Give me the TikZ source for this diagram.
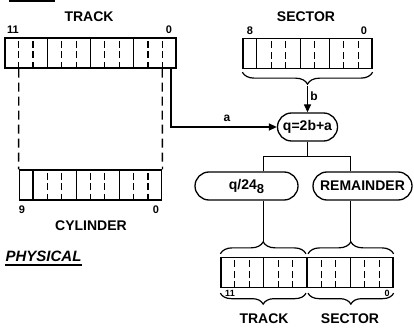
\documentclass[tikz,border=0pt]{standalone}
\usepackage{fontspec}
\setmainfont{Liberation Sans}
\usetikzlibrary{calc,arrows.meta,decorations.pathreplacing}
\begin{document}
\begin{tikzpicture}[x=1pt,y=-1pt,line width=1.3pt,
  reg/.style={draw,rectangle,minimum height=30pt,inner sep=0pt},
  lbl/.style={font=\fontsize{14}{14}\selectfont\bfseries,inner sep=0pt},
  bitlbl/.style={font=\fontsize{11}{11}\selectfont\bfseries,inner sep=0pt},
  pill/.style={draw,rounded corners=14pt,minimum height=28pt,inner sep=0pt,font=\fontsize{14}{14}\selectfont\bfseries},
  soliddiv/.style={line width=1.2pt},
  dashdiv/.style={line width=1.2pt,dash pattern=on 7pt off 3.5pt,dash phase=7pt},
  longdash/.style={line width=1.3pt,dash pattern=on 9pt off 5pt},
  brc/.style={decorate,decoration={brace,amplitude=12pt},line width=1.2pt},
  brcl/.style={decorate,decoration={brace,amplitude=11pt},line width=1.2pt},
  conn/.style={line width=1.3pt},
  arr/.style={-{Triangle[length=8pt,width=7pt]}}]
\useasboundingbox (0,0) rectangle (414,328);
\fill (9,0) rectangle (55,2.5);

% registers
\node[reg,minimum width=171pt] (track) at (90.5,53) {};
\node[reg,minimum width=129pt] (sector) at (307.5,53.5) {};
\node[reg,minimum width=142.5pt] (cyl) at (90.5,185) {};
\node[reg,minimum width=172pt] (out) at (307,272.5) {};

\foreach \i in {3,6,9}
  \draw[soliddiv] ($(track.north west)!\i/12!(track.north east)$) -- ($(track.south west)!\i/12!(track.south east)$);
\foreach \i in {1,2,4,5,7,8,10,11}
  \draw[dashdiv] ($(track.north west)!\i/12!(track.north east)$) -- ($(track.south west)!\i/12!(track.south east)$);
\foreach \i in {1,4,6}
  \draw[soliddiv] ($(sector.north west)!\i/9!(sector.north east)$) -- ($(sector.south west)!\i/9!(sector.south east)$);
\foreach \i in {2,3,5,7,8}
  \draw[dashdiv] ($(sector.north west)!\i/9!(sector.north east)$) -- ($(sector.south west)!\i/9!(sector.south east)$);
\foreach \i in {1,4,7}
  \draw[soliddiv] ($(cyl.north west)!\i/10!(cyl.north east)$) -- ($(cyl.south west)!\i/10!(cyl.south east)$);
\foreach \i in {2,3,5,6,8,9}
  \draw[dashdiv] ($(cyl.north west)!\i/10!(cyl.north east)$) -- ($(cyl.south west)!\i/10!(cyl.south east)$);
\foreach \i in {3,6,9}
  \draw[soliddiv] ($(out.north west)!\i/12!(out.north east)$) -- ($(out.south west)!\i/12!(out.south east)$);
\foreach \i in {1,2,4,5,7,8,10,11}
  \draw[dashdiv] ($(out.north west)!\i/12!(out.north east)$) -- ($(out.south west)!\i/12!(out.south east)$);

% labels
\node[lbl] (tracklbl) at (89,17) {TRACK};
\node[bitlbl] (t11) at (13,30) {11};
\node[bitlbl] (t0) at (169,30) {0};
\node[lbl] (seclbl) at (306,17) {SECTOR};
\node[bitlbl] (s8) at (250,31) {8};
\node[bitlbl] (s0) at (364,31) {0};
\node[bitlbl] (c9) at (22,210) {9};
\node[bitlbl] (c0) at (156,210) {0};
\node[lbl] (cyllbl) at (91,226) {CYLINDER};
\node[font=\fontsize{15}{15}\selectfont\bfseries\itshape,inner sep=0pt,anchor=west] (phys) at (5,256) {PHYSICAL};
\draw[line width=1.6pt] ($(phys.south west)+(0,3)$) -- ($(phys.south east)+(0,3)$);

% dashed track -> cylinder
\draw[longdash] ($(track.south west)!1/12!(track.south east)$) -- (cyl.north west);
\draw[longdash] ($(track.south west)!11/12!(track.south east)$) -- (cyl.north east);

% computation nodes
\node[pill,minimum width=60pt] (q) at (307.5,127) {q=2b+a};
\node[pill,minimum width=103pt] (q24) at (246.5,186) {q/24\raisebox{-4pt}{\fontsize{13}{13}\selectfont 8}};
\node[pill,minimum width=99pt] (rem) at (362.5,186) {REMAINDER};

% track -> q
\draw[conn,arr] ($(track.south west)!11.6/12!(track.south east)$) |- (q.west);
\node[font=\fontsize{12}{12}\selectfont\bfseries,inner sep=0pt] (alabel) at (227,118) {a};

% sector brace -> q
\draw[brc] ($(sector.south east)+(0,3)$) -- ($(sector.south west)+(0,3)$);
\coordinate (sbtip) at ($(sector.south)+(0,17)$);
\draw[conn,arr] (sbtip) -- (q.north);
\node[font=\fontsize{12}{12}\selectfont\bfseries,inner sep=0pt] (blabel) at (314,96) {b};

% output braces
\draw[brc] ($(out.north west)+(0,-3)$) -- ($(out.north)+(-1,-3)$);
\draw[brc] ($(out.north)+(1,-3)$) -- ($(out.north east)+(0,-3)$);
\draw[brcl] ($(out.south)+(-1,5)$) -- ($(out.south west)+(0,5)$);
\draw[brcl] ($(out.south east)+(0,5)$) -- ($(out.south)+(1,5)$);
\coordinate (ubt) at ($(out.north west)!0.5!(out.north)+(0,-15)$);
\coordinate (urt) at ($(out.north)!0.5!(out.north east)+(0,-15)$);
\path (ubt) ++(0,-85) coordinate (jl);
\path (urt) ++(0,-85) coordinate (jr);

% split lines
\draw[conn] (q.south) -- (q.south |- jl);
\draw[conn] (jl |- q24.north) -- (jl) -- (jr) -- (jr |- rem.north);
\draw[conn] (ubt |- q24.south) -- (ubt);
\draw[conn] (urt |- rem.south) -- (urt);

\node[font=\fontsize{9}{9}\selectfont\bfseries,inner sep=0pt] (o11) at (230,293) {11};
\node[font=\fontsize{9}{9}\selectfont\bfseries,inner sep=0pt] (o0) at (387,293) {0};
\node[lbl] (otrack) at (264,319) {TRACK};
\node[lbl] (osector) at (350,319) {SECTOR};
\end{tikzpicture}
\end{document}
